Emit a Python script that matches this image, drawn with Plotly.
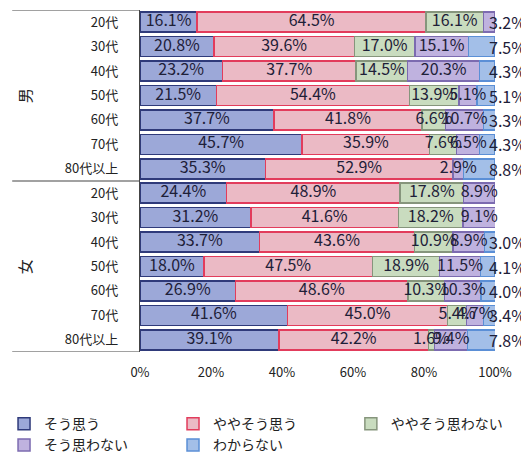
import plotly.graph_objects as go

# rows: 男 20代..80代以上, then 女 20代..80代以上
ages = ['20代', '30代', '40代', '50代', '60代', '70代', '80代以上']
genders = ['男', '女']
row_labels = ages + ages

series_names = ['そう思う', 'ややそう思う', 'ややそう思わない', 'そう思わない', 'わからない']

sou_omou = [16.1, 20.8, 23.2, 21.5, 37.7, 45.7, 35.3,
            24.4, 31.2, 33.7, 18.0, 26.9, 41.6, 39.1]
yaya_sou_omou = [64.5, 39.6, 37.7, 54.4, 41.8, 35.9, 52.9,
                 48.9, 41.6, 43.6, 47.5, 48.6, 45.0, 42.2]
yaya_omowanai = [16.1, 17.0, 14.5, 13.9, 6.6, 7.6, None,
                 17.8, 18.2, 10.9, 18.9, 10.3, 5.4, 1.6]
sou_omowanai = [3.2, 15.1, 20.3, 5.1, 10.7, 6.5, 2.9,
                8.9, 9.1, 8.9, 11.5, 10.3, 4.7, 9.4]
wakaranai = [None, 7.5, 4.3, 5.1, 3.3, 4.3, 8.8,
             None, None, 3.0, 4.1, 4.0, 3.4, 7.8]

x_ticks = [0, 20, 40, 60, 80, 100]

fills = ['#9ca8d8', '#ebbac5', '#c9dcbf', '#bfb2df', '#a3bfe8']
borders = ['#2f3a7a', '#e23c5c', '#86957c', '#7c6bb0', '#5b8fd6']
# legend columns like the original (3 across, 2 rows)
legend_ids = ['legend', 'legend2', 'legend3', 'legend', 'legend2']

rows = list(range(len(row_labels)))
all_series = [sou_omou, yaya_sou_omou, yaya_omowanai, sou_omowanai, wakaranai]
label_font = dict(size=16, color='#1e2038')

fig = go.Figure()

for name, vals, fc, lc, lg in zip(series_names, all_series, fills, borders, legend_ids):
    fig.add_trace(go.Bar(
        x=vals,
        y=rows,
        orientation='h',
        name=name,
        legend=lg,
        marker=dict(color=fc, line=dict(color=lc, width=1.5)),
        hoverinfo='skip',
    ))

# value labels centred on each segment; the narrow last segment of a row
# has its label pushed against the right edge of the chart, like Excel did
lab_x, lab_y, lab_t = [], [], []
for r in rows:
    start = 0
    present = [vals[r] for vals in all_series if vals[r]]
    for k, v in enumerate(present):
        if k == len(present) - 1 and v < 8.85:
            fig.add_annotation(x=100, xref='x', y=r, yref='y',
                               xanchor='right', xshift=33, showarrow=False,
                               text=f'{v:.1f}%', font=label_font)
        else:
            lab_x.append(start + v / 2)
            lab_y.append(r)
            lab_t.append(f'{v:.1f}%')
        start += v
fig.add_trace(go.Scatter(
    x=lab_x, y=lab_y, text=lab_t, mode='text',
    textfont=label_font,
    showlegend=False, cliponaxis=False, hoverinfo='skip',
))

# group labels (rotated like the original)
for i, g in enumerate(genders):
    fig.add_annotation(
        x=-0.325, xref='paper', y=i * 7 + 3, yref='y',
        xanchor='center', yanchor='middle',
        text=g, textangle=-90, showarrow=False,
        font=dict(size=15, color='#222'),
    )

# divider lines in the category label area
for yv in [-0.5, 6.5, 13.5]:
    fig.add_shape(type='line', xref='paper', yref='y',
                  x0=-0.36, x1=0, y0=yv, y1=yv,
                  line=dict(color='#444', width=1.2))

leg_common = dict(orientation='v', yanchor='top', xanchor='left', y=-0.164,
                  font=dict(size=14), itemclick=False, tracegroupgap=0,
                  traceorder='normal', bgcolor='rgba(0,0,0,0)')

# the page body adds an 8px offset, so margins are shifted to compensate
fig.update_layout(
    barmode='stack',
    bargap=0.18,
    width=529, height=465,
    margin=dict(l=132, r=42, t=2, b=121, autoexpand=False),
    plot_bgcolor='white',
    paper_bgcolor='white',
    font=dict(family='Noto Sans CJK JP', size=13, color='#222'),
    showlegend=True,
    legend=dict(x=-0.383, **leg_common),
    legend2=dict(x=0.093, **leg_common),
    legend3=dict(x=0.594, **leg_common),
)

fig.update_xaxes(
    range=[0, 100],
    tickvals=x_ticks,
    ticktext=[f'{t}%' for t in x_ticks],
    showgrid=False, zeroline=False, showline=False,
    ticks='outside', ticklen=8, tickcolor='rgba(0,0,0,0)',
    tickfont=dict(size=13),
)
fig.update_yaxes(
    range=[13.5, -0.5],
    tickvals=rows,
    ticktext=row_labels,
    showgrid=False, zeroline=False,
    showline=True, linecolor='#444', linewidth=1.2,
    ticks='outside', ticklen=18, tickcolor='rgba(0,0,0,0)',
    tickfont=dict(size=13),
)

fig.write_html('out.html')
